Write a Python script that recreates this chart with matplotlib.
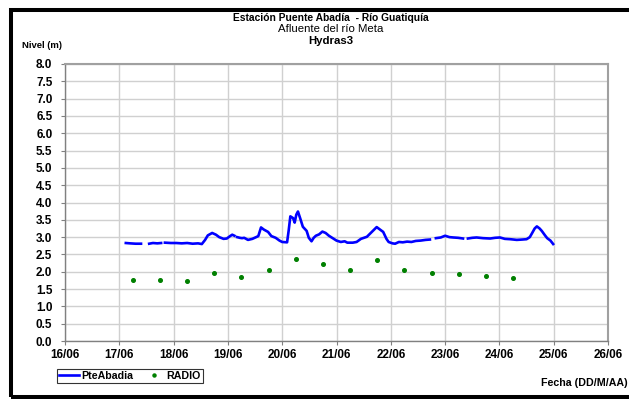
import numpy as np
import matplotlib
matplotlib.use("Agg")
import matplotlib.pyplot as plt
from matplotlib.lines import Line2D
from matplotlib.patches import Rectangle

plt.rcParams['font.family'] = ['Liberation Sans', 'DejaVu Sans']

nan = np.nan
# days since 16/06
pte_days = [1.12, 1.20, 1.30, 1.40, nan,
            1.55, 1.62, 1.70, 1.77, nan,
            1.84, 1.95, 2.05, 2.15, 2.25, 2.35, 2.45, 2.52, 2.58, 2.63, 2.71, 2.78, 2.84, 2.92, 2.98, 3.04, 3.08, 3.12, nan,
            3.17, 3.22, 3.26, 3.30, 3.37, 3.45, 3.52, 3.56, 3.61, 3.66, 3.74, 3.80, 3.88, 3.95, 4.00, 4.09, 4.12, 4.15,
            4.20, 4.23, 4.26, 4.29, 4.33, 4.38, 4.45, 4.49, 4.54, 4.58, 4.62, 4.68, 4.74, 4.80, 4.86, 4.92, 5.00, 5.08,
            5.15, 5.20, 5.30, 5.37, 5.45, 5.56, 5.65, 5.74, 5.80, 5.86, 5.92, 5.96, 6.03, 6.08, 6.15, 6.22, 6.30, 6.38,
            6.46, 6.55, 6.64, 6.72, nan,
            6.83, 6.92, 7.00, 7.08, 7.15, 7.24, 7.33, nan,
            7.42, 7.50, 7.58, 7.70, 7.83, 7.92, 8.01, 8.10, 8.20, 8.32, 8.42, 8.50, 8.56, 8.60, 8.65, 8.69, 8.74, 8.78,
            8.84, 8.88, 8.94, 8.99]
pte_level = [2.83, 2.82, 2.81, 2.81, nan,
             2.81, 2.83, 2.82, 2.83, nan,
             2.84, 2.83, 2.83, 2.82, 2.83, 2.81, 2.82, 2.80, 2.92, 3.05, 3.12, 3.07, 3.00, 2.95, 2.96, 3.03, 3.07, 3.04, nan,
             3.00, 2.98, 2.97, 2.98, 2.92, 2.95, 3.00, 3.03, 3.28, 3.22, 3.15, 3.03, 2.98, 2.90, 2.86, 2.85, 3.20, 3.60,
             3.55, 3.42, 3.65, 3.74, 3.55, 3.30, 3.18, 2.98, 2.88, 2.98, 3.04, 3.08, 3.16, 3.12, 3.04, 2.98, 2.90, 2.86,
             2.88, 2.84, 2.84, 2.86, 2.95, 3.01, 3.15, 3.29, 3.22, 3.15, 2.95, 2.86, 2.82, 2.81, 2.86, 2.85, 2.87, 2.86,
             2.89, 2.90, 2.92, 2.93, nan,
             2.97, 2.99, 3.04, 3.00, 2.99, 2.98, 2.96, nan,
             2.96, 2.98, 2.99, 2.97, 2.96, 2.98, 2.99, 2.95, 2.94, 2.92, 2.93, 2.94, 3.00, 3.11, 3.25, 3.31, 3.25, 3.18,
             3.05, 2.97, 2.90, 2.80]

radio_days = [1.25, 1.75, 2.25, 2.75, 3.25, 3.75, 4.25, 4.75, 5.25, 5.75, 6.25, 6.75, 7.25, 7.75, 8.25]
radio_level = [1.76, 1.76, 1.74, 1.95, 1.85, 2.06, 2.38, 2.22, 2.05, 2.35, 2.05, 1.95, 1.94, 1.89, 1.81]

x_labels = ['16/06', '17/06', '18/06', '19/06', '20/06', '21/06',
            '22/06', '23/06', '24/06', '25/06', '26/06']
y_ticks = [0.0, 0.5, 1.0, 1.5, 2.0, 2.5, 3.0, 3.5, 4.0, 4.5, 5.0, 5.5, 6.0, 6.5, 7.0, 7.5, 8.0]

W, H = 629, 399
fig = plt.figure(figsize=(W / 100, H / 100), dpi=100)
ax = fig.add_axes([65 / W, 1 - 341 / H, 543 / W, 277 / H])

ax.plot(pte_days, pte_level, color='#0000ff', lw=1.9, label='PteAbadia', zorder=3)
ax.plot(radio_days, radio_level, ls='none', marker='o', ms=2.6, color='#008000', label='RADIO', zorder=3)

ax.set_xlim(0, 10)
ax.set_ylim(0, 8)
ax.set_xticks(range(len(x_labels)))
ax.set_xticklabels(x_labels, fontsize=8.5, fontweight='bold')
ax.set_yticks(y_ticks)
ax.set_yticklabels([f'{v:.1f}' for v in y_ticks], fontsize=8.5, fontweight='bold')
ax.grid(True, color='#d0d0d0', lw=1.0)
ax.set_axisbelow(True)
ax.tick_params(axis='both', direction='out', length=3, width=0.8, color='#808080')
ax.tick_params(axis='y', pad=6)
ax.tick_params(axis='x', pad=3)
for s in ['left', 'bottom']:
    ax.spines[s].set_color('#808080')
    ax.spines[s].set_linewidth(1.0)
for s in ['top', 'right']:
    ax.spines[s].set_color('#a0a0a0')
    ax.spines[s].set_linewidth(1.5)

fig.text(331 / W, 1 - 18 / H, 'Estación Puente Abadía  - Río Guatiquía', ha='center', va='center',
         fontsize=7.4, fontweight='bold')
fig.text(331 / W, 1 - 29.5 / H, 'Afluente del río Meta', ha='center', va='center', fontsize=8.2)
fig.text(331 / W, 1 - 41 / H, 'Hydras3', ha='center', va='center', fontsize=8.2, fontweight='bold')
fig.text(22 / W, 1 - 46 / H, 'Nivel (m)', ha='left', va='center', fontsize=6.8, fontweight='bold')
fig.text(628 / W, 1 - 383 / H, 'Fecha (DD/M/AA)', ha='right', va='center', fontsize=7.7, fontweight='bold')

handles = [Line2D([], [], color='#0000ff', lw=1.9),
           Line2D([], [], ls='none', marker='o', ms=2.2, color='#008000')]
leg = fig.legend(handles, ['PteAbadia', 'RADIO'], loc='center', bbox_to_anchor=(130 / W, 1 - 376 / H),
                 ncol=2, frameon=True, fancybox=False, handlelength=1.9, handletextpad=0.2,
                 columnspacing=1.0, borderpad=0.2, prop={'weight': 'bold', 'size': 7.7})
leg.get_frame().set_edgecolor('black')
leg.get_frame().set_linewidth(0.8)

fig.patches.append(Rectangle((10.5 / W, 2.5 / H), 700 / W, 387 / H, transform=fig.transFigure,
                             fill=False, edgecolor='black', lw=2.9))

fig.savefig('out.png', dpi=100)
